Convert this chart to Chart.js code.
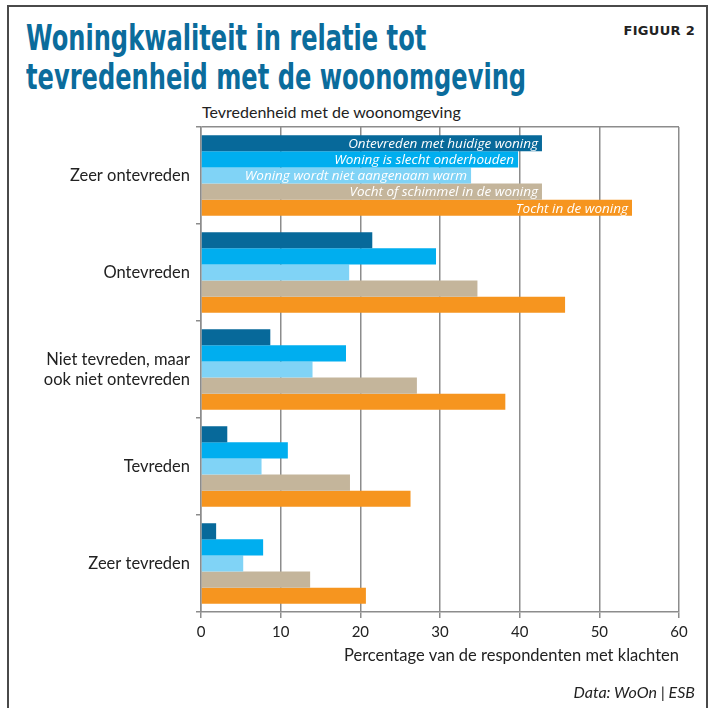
<!DOCTYPE html>
<html lang="nl">
<head>
<meta charset="utf-8">
<title>Woningkwaliteit in relatie tot tevredenheid met de woonomgeving</title>
<script src="https://cdn.jsdelivr.net/npm/chart.js@4/dist/chart.umd.min.js"></script>
<style>
  html, body { margin: 0; padding: 0; background: #fff; }
  #page { position: relative; width: 714px; height: 708px; overflow: hidden; font-family: Lato, "Open Sans", sans-serif; }
  #frame { position: absolute; left: 7px; top: 5px; width: 701px; height: 720px; border: 2px solid #4a4a4a; box-sizing: border-box; }
  #title { position: absolute; left: 26px; top: 18px; margin: 0; font-family: "Liberation Sans Narrow", "DejaVu Sans Condensed", sans-serif; font-weight: bold; font-size: 36px; line-height: 39px; color: #0b6c9c; transform: scaleX(0.745); transform-origin: 0 0; white-space: nowrap; }
  #fig { position: absolute; right: 19px; top: 23px; font-family: "DejaVu Sans", sans-serif; font-weight: bold; font-size: 13px; color: #222; letter-spacing: 0.3px; }
  #ytitle { position: absolute; left: 202px; top: 102px; font-size: 16px; color: #222; }
  #source { position: absolute; right: 19px; top: 682px; font-style: italic; font-size: 16px; color: #222; }
  #chart { position: absolute; left: 0; top: 0; }
</style>
</head>
<body>
<div id="page">
  <div id="frame"></div>
  <h1 id="title">Woningkwaliteit in relatie tot<br>tevredenheid met de woonomgeving</h1>
  <div id="fig">FIGUUR 2</div>
  <div id="ytitle">Tevredenheid met de woonomgeving</div>
  <canvas id="chart" width="714" height="708"></canvas>
  <div id="source">Data: WoOn | ESB</div>
</div>
<script>
// satisfaction with the neighbourhood, top to bottom
const categories = [
  'Zeer ontevreden',
  'Ontevreden',
  ['Niet tevreden, maar', 'ook niet ontevreden'],
  'Tevreden',
  'Zeer tevreden',
];

// share of respondents with each complaint (%)
const seriesNames = [
  'Ontevreden met huidige woning',
  'Woning is slecht onderhouden',
  'Woning wordt niet aangenaam warm',
  'Vocht of schimmel in de woning',
  'Tocht in de woning',
];
const ontevredenWoning = [42.8, 21.5, 8.7, 3.3, 1.9];
const slechtOnderhouden = [39.8, 29.5, 18.2, 10.9, 7.8];
const nietWarm = [33.9, 18.6, 14.0, 7.6, 5.3];
const vochtSchimmel = [42.8, 34.7, 27.1, 18.7, 13.7];
const tocht = [54.1, 45.7, 38.2, 26.3, 20.7];

const xTicks = [0, 10, 20, 30, 40, 50, 60];

const colors = ['#07699a', '#00aeef', '#80d3f6', '#c4b59b', '#f6951f'];
const seriesValues = [ontevredenWoning, slechtOnderhouden, nietWarm, vochtSchimmel, tocht];

// series names are written inside the bars of the first group instead of a legend
const inBarLabels = {
  id: 'inBarLabels',
  afterDatasetsDraw(chart) {
    const ctx = chart.ctx;
    ctx.save();
    ctx.font = 'italic 13.5px "Open Sans", Lato, sans-serif';
    ctx.fillStyle = '#ffffff';
    ctx.textAlign = 'right';
    ctx.textBaseline = 'middle';
    chart.data.datasets.forEach((ds, i) => {
      const bar = chart.getDatasetMeta(i).data[0];
      ctx.fillText(ds.label, bar.x - 4, bar.y + 1);
    });
    ctx.restore();
  },
};

new Chart(document.getElementById('chart'), {
  type: 'bar',
  data: {
    labels: categories,
    datasets: seriesValues.map((vals, i) => ({
      label: seriesNames[i],
      data: vals,
      backgroundColor: colors[i],
      borderWidth: 0,
      barPercentage: 1.0,
      categoryPercentage: 0.83,
    })),
  },
  options: {
    indexAxis: 'y',
    responsive: false,
    animation: false,
    layout: { padding: { left: 6, top: 127, right: 35, bottom: 38 } },
    plugins: {
      legend: { display: false },
      tooltip: { enabled: false },
    },
    scales: {
      x: {
        min: 0,
        max: 60,
        afterBuildTicks(scale) {
          scale.ticks = xTicks.map((v) => ({ value: v }));
        },
        afterFit(scale) { scale.height = 58; },
        grid: { color: '#8c8c8c', lineWidth: 1.5, tickLength: 6, tickColor: '#8c8c8c' },
        border: { color: '#8c8c8c', width: 1.5 },
        ticks: { color: '#222', font: { family: 'Lato', size: 15 }, padding: 5 },
        title: {
          display: true,
          text: 'Percentage van de respondenten met klachten',
          align: 'end',
          color: '#222',
          font: { family: 'Lato', size: 16.5 },
          padding: { top: 0 },
        },
      },
      y: {
        afterFit(scale) { scale.width = 195; },
        grid: {
          offset: true,
          color: (c) => (c.index === 0 ? '#8c8c8c' : 'rgba(0,0,0,0)'),
          lineWidth: 1.5,
          tickLength: 5,
          tickColor: '#8c8c8c',
        },
        border: { color: '#8c8c8c', width: 1.5 },
        ticks: { color: '#222', font: { family: 'Lato', size: 16.5 }, padding: 6 },
      },
    },
  },
  plugins: [inBarLabels],
});
</script>
</body>
</html>
